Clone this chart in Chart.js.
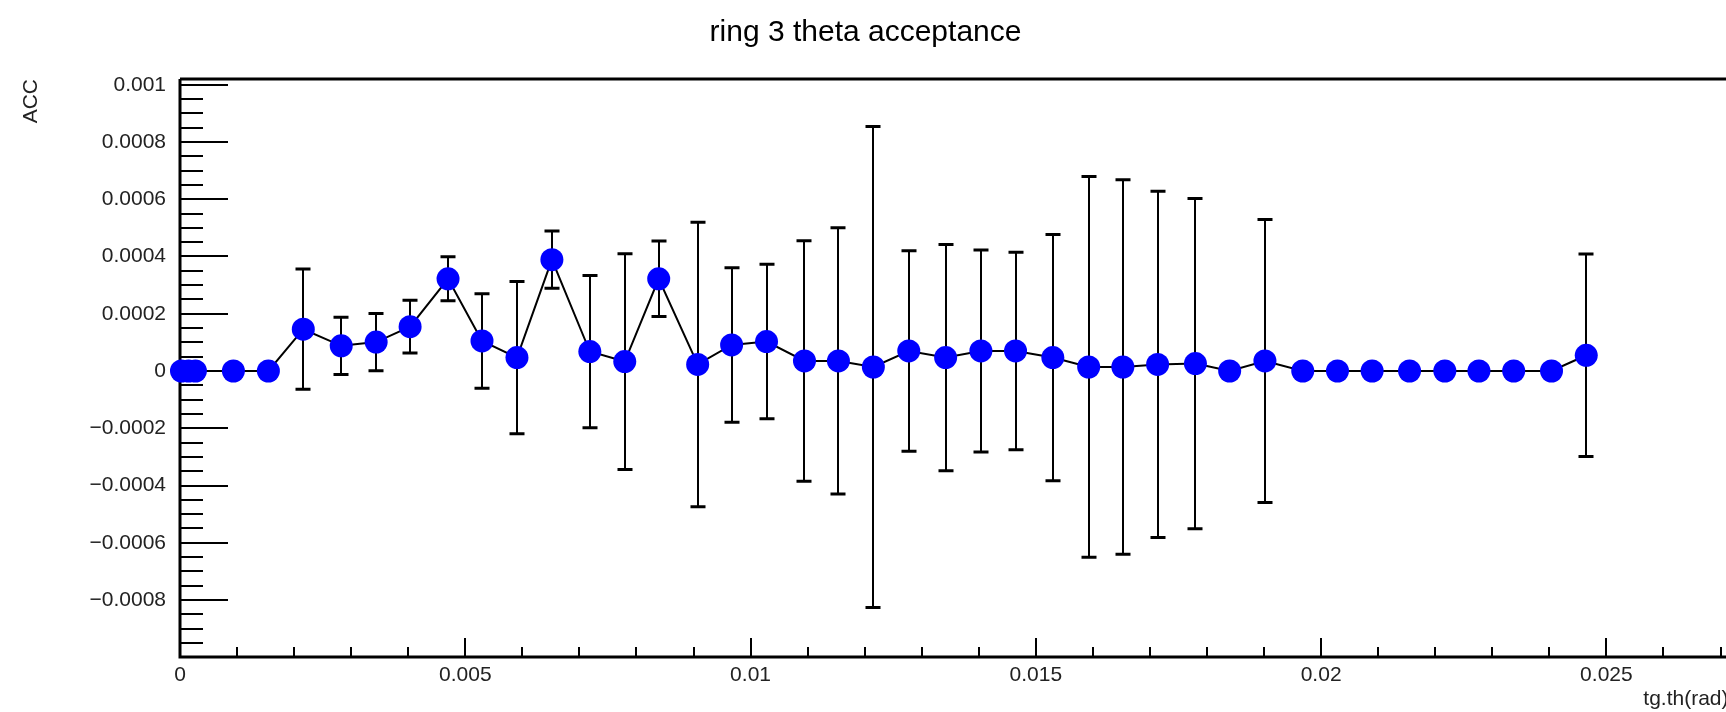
<!DOCTYPE html>
<html>
<head>
<meta charset="utf-8">
<script src="https://cdn.jsdelivr.net/npm/chart.js@4.4.1/dist/chart.umd.min.js"></script>
<style>
  html, body { margin: 0; padding: 0; background: #fff; overflow: hidden; }
  #wrap { position: relative; width: 1740px; height: 712px; }
</style>
</head>
<body>
<div id="wrap"><canvas id="acc"></canvas></div>
<script>
// tg.th bin positions, acceptance and its error
var thetaX = [0.000026, 0.00015, 0.00027, 0.000936, 0.001549, 0.002161, 0.002826, 0.003438,
    0.004033, 0.004698, 0.005293, 0.005906, 0.006518, 0.007183, 0.007795, 0.00839,
    0.009073, 0.009668, 0.01028, 0.010945, 0.01154, 0.012152, 0.012773, 0.013419,
    0.014037, 0.014644, 0.015298, 0.015926, 0.016525, 0.017134, 0.017797, 0.018397,
    0.019015, 0.019678, 0.020287, 0.020894, 0.02155, 0.022168, 0.022766, 0.023375,
    0.024038, 0.024647];
var accValues = [0, 0, 0, 0, 0, 0.000146, 0.000088, 0.000101,
    0.000155, 0.000322, 0.000105, 0.000047, 0.000389, 0.000068, 0.000033, 0.000322,
    0.000023, 0.000091, 0.000103, 0.000035, 0.000035, 0.000014, 0.00007, 0.000047,
    0.00007, 0.00007, 0.000047, 0.000014, 0.000014, 0.000023, 0.000026, 0,
    0.000035, 0, 0, 0, 0, 0, 0, 0,
    0, 0.000055];
var accErrors = [0, 0, 0, 0, 0, 0.00021, 0.0001, 0.0001,
    0.000092, 0.000077, 0.000165, 0.000266, 0.0001, 0.000266, 0.000377, 0.000132,
    0.000497, 0.00027, 0.00027, 0.00042, 0.000465, 0.00084, 0.00035, 0.000395,
    0.000353, 0.000345, 0.00043, 0.000665, 0.000654, 0.000605, 0.000577, 0,
    0.000494, 0, 0, 0, 0, 0, 0, 0,
    0, 0.000354];

var FONT = "'Liberation Sans', Arial, Helvetica, sans-serif";

function fmt(v, d) {
    if (Math.abs(v) < 1e-12) return '0';
    var s = Math.abs(v).toFixed(d).replace(/0+$/, '').replace(/\.$/, '');
    return (v < 0 ? '\u2212' : '') + s;
}

// frame, inside tick marks and error bars, all placed through the scales
var rootFrame = {
    id: 'rootFrame',
    beforeDatasetsDraw: function(chart) {
        var ctx = chart.ctx, a = chart.chartArea;
        var xs = chart.scales.x, ys = chart.scales.y;
        ctx.save();
        ctx.strokeStyle = '#000';
        ctx.lineWidth = 2;
        ctx.beginPath();
        var v, px, py, major;
        for (var i = -19; i <= 20; i++) {
            v = i * 0.00005;
            py = Math.round(ys.getPixelForValue(v));
            major = (i % 4 === 0);
            ctx.moveTo(a.left, py);
            ctx.lineTo(a.left + (major ? 48 : 23), py);
        }
        for (var j = 1; j <= 27; j++) {
            v = j * 0.001;
            px = Math.round(xs.getPixelForValue(v));
            major = (j % 5 === 0);
            ctx.moveTo(px, a.bottom);
            ctx.lineTo(px, a.bottom - (major ? 19 : 10));
        }
        ctx.stroke();

        ctx.lineWidth = 3;
        ctx.beginPath();
        ctx.moveTo(a.left, a.top);
        ctx.lineTo(a.right, a.top);
        ctx.moveTo(a.left, a.top);
        ctx.lineTo(a.left, a.bottom);
        ctx.lineTo(a.right, a.bottom);
        ctx.stroke();

        // error bars
        ctx.lineWidth = 2;
        ctx.beginPath();
        for (var k = 0; k < thetaX.length; k++) {
            if (!accErrors[k]) continue;
            px = Math.round(xs.getPixelForValue(thetaX[k]));
            var yt = ys.getPixelForValue(accValues[k] + accErrors[k]);
            var yb = ys.getPixelForValue(accValues[k] - accErrors[k]);
            ctx.moveTo(px, yt);
            ctx.lineTo(px, yb);
        }
        ctx.stroke();
        ctx.lineWidth = 3;
        ctx.beginPath();
        for (var m = 0; m < thetaX.length; m++) {
            if (!accErrors[m]) continue;
            px = Math.round(xs.getPixelForValue(thetaX[m]));
            var t = ys.getPixelForValue(accValues[m] + accErrors[m]);
            var b = ys.getPixelForValue(accValues[m] - accErrors[m]);
            ctx.moveTo(px - 7.5, t);
            ctx.lineTo(px + 7.5, t);
            ctx.moveTo(px - 7.5, b);
            ctx.lineTo(px + 7.5, b);
        }
        ctx.stroke();
        ctx.restore();
    }
};

var points = thetaX.map(function(x, i) { return { x: x, y: accValues[i] }; });

var ctx = document.getElementById('acc').getContext('2d');
var accChart = new Chart(ctx, {
    type: 'line',
    data: {
        datasets: [{
            label: 'ACC',
            data: points,
            borderColor: '#000',
            borderWidth: 2,
            backgroundColor: '#0000ff',
            pointBackgroundColor: '#0000ff',
            pointBorderColor: '#0000ff',
            pointBorderWidth: 0,
            pointRadius: 11.5,
            tension: 0,
            fill: false,
            clip: false
        }]
    },
    options: {
        responsive: true,
        maintainAspectRatio: false,
        animation: false,
        layout: {
            padding: { left: 0, right: 9, top: 0, bottom: 0 }
        },
        plugins: {
            legend: { display: false },
            tooltip: { enabled: false },
            title: {
                display: true,
                text: 'ring 3 theta acceptance',
                color: '#000',
                font: { family: FONT, size: 30, weight: 'normal' },
                padding: { top: 15, bottom: 28 }
            }
        },
        scales: {
            x: {
                type: 'linear',
                min: 0,
                max: 0.02714,
                grid: { display: false, drawTicks: false },
                border: { display: false },
                ticks: {
                    stepSize: 0.005,
                    includeBounds: false,
                    autoSkip: false,
                    maxRotation: 0,
                    padding: 6,
                    color: '#222',
                    font: { family: FONT, size: 21 },
                    callback: function(v) { return fmt(v, 3); }
                },
                title: {
                    display: true,
                    text: 'tg.th(rad)',
                    align: 'end',
                    color: '#222',
                    font: { family: FONT, size: 21 },
                    padding: { top: 0, bottom: 0 }
                },
                afterFit: function(s) { s.height = 55; }
            },
            y: {
                type: 'linear',
                min: -0.000999,
                max: 0.00102,
                grid: { display: false, drawTicks: false },
                border: { display: false },
                ticks: {
                    stepSize: 0.0002,
                    includeBounds: false,
                    autoSkip: false,
                    padding: 14,
                    color: '#222',
                    font: { family: FONT, size: 21 },
                    callback: function(v) { return fmt(v, 4); }
                },
                title: {
                    display: true,
                    text: 'ACC',
                    align: 'end',
                    color: '#222',
                    font: { family: FONT, size: 21 },
                    padding: { top: 19, bottom: 0 }
                },
                afterFit: function(s) { s.width = 180; }
            }
        }
    },
    plugins: [rootFrame]
});
</script>
</body>
</html>
